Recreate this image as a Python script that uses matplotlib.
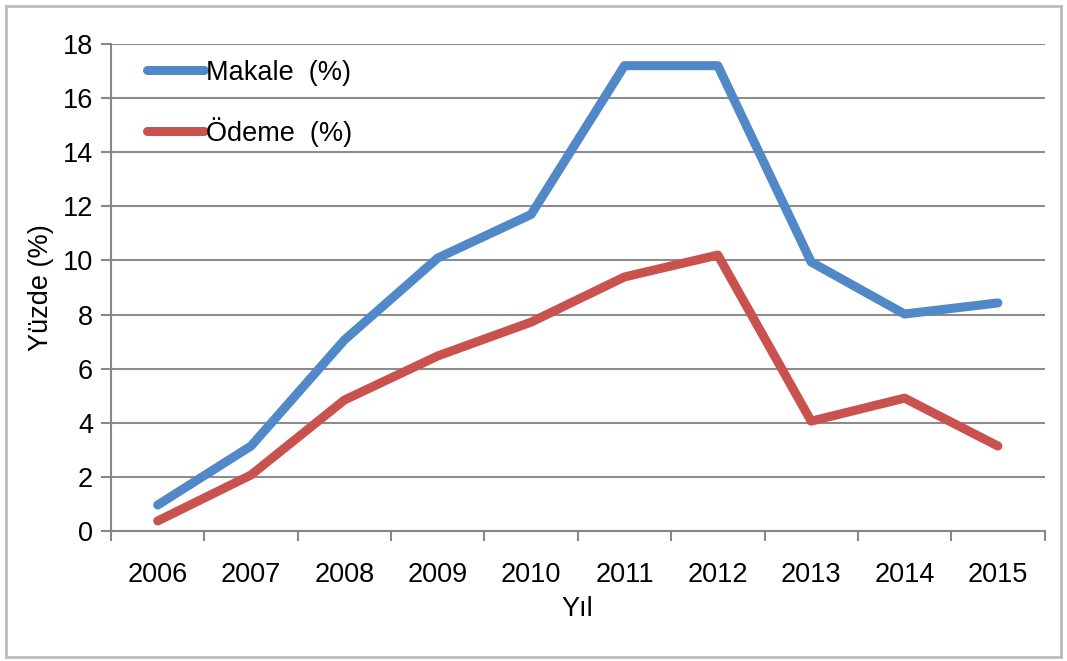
#!/usr/bin/env python3
"""Makale / Odeme yuzde grafigi"""

import matplotlib
matplotlib.use("Agg")
import matplotlib.pyplot as plt
from matplotlib.patches import Rectangle
import numpy as np

years = ["2006", "2007", "2008", "2009", "2010", "2011", "2012", "2013", "2014", "2015"]
makale = [0.96, 3.14, 7.06, 10.09, 11.7, 17.2, 17.2, 9.94, 8.02, 8.43]
odeme = [0.37, 2.07, 4.84, 6.47, 7.72, 9.39, 10.2, 4.06, 4.91, 3.14]
yticks = list(range(0, 20, 2))

plt.rcParams['font.family'] = ['Liberation Sans', 'DejaVu Sans']
fs = 19.5

fig = plt.figure(figsize=(10.67, 6.61), dpi=100)
ax = fig.add_axes([0.104, 0.1967, 0.875, 0.7367])

x = np.arange(len(years))
ax.plot(x, makale, color='#5088C8', linewidth=6.5, solid_capstyle='round', label='Makale  (%)')
ax.plot(x, odeme, color='#C9524E', linewidth=6.5, solid_capstyle='round', label='Ödeme  (%)')

ax.set_xlim(-0.5, len(years) - 0.5)
ax.set_ylim(0, 18)
ax.set_yticks(yticks)
ax.set_xticks(x)
ax.set_xticklabels(years)
ax.set_xticks(np.arange(-0.5, len(years), 1.0), minor=True)
ax.tick_params(axis='x', which='major', length=0, pad=22, labelsize=fs)
ax.tick_params(axis='x', which='minor', length=7, width=1.5, color='#888888')
ax.tick_params(axis='y', length=7, width=1.5, color='#888888', pad=6, labelsize=fs)

ax.grid(axis='y', color='#8c8c8c', linewidth=1.5)
ax.set_axisbelow(True)
for s in ['top', 'right']:
    ax.spines[s].set_visible(False)
for s in ['left', 'bottom']:
    ax.spines[s].set_color('#888888')
    ax.spines[s].set_linewidth(1.5)

ax.set_xlabel('Yıl', fontsize=fs, labelpad=6)
ax.set_ylabel('Yüzde (%)', fontsize=fs, labelpad=6)

ax.legend(loc='upper left', bbox_to_anchor=(0.013, 1.018), frameon=False, fontsize=fs,
          handlelength=2.1, handletextpad=0.05, labelspacing=1.15)

fig.patches.append(Rectangle((0.006, 0.006), 0.988, 0.985, transform=fig.transFigure,
                             fill=False, edgecolor='#bbbbbb', linewidth=2))

fig.savefig('out.png', dpi=100)
